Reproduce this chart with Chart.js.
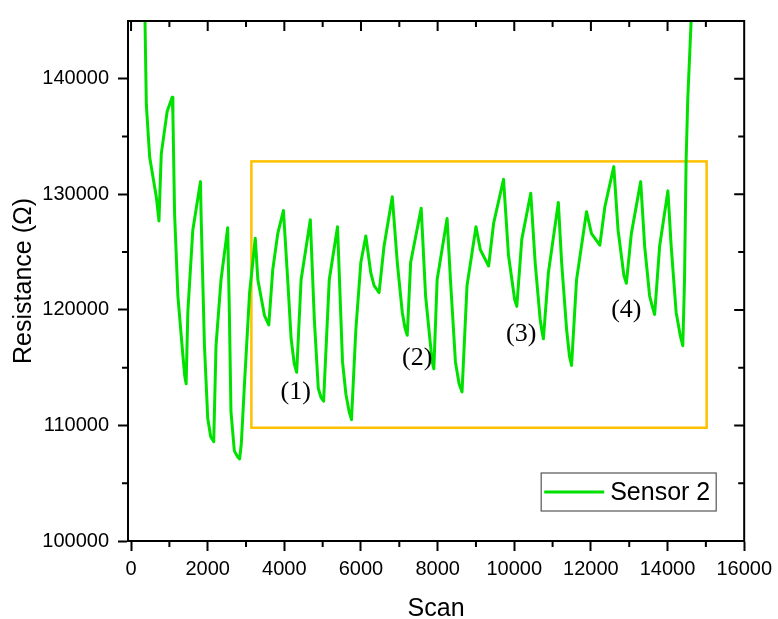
<!DOCTYPE html>
<html><head><meta charset="utf-8">
<script src="https://cdn.jsdelivr.net/npm/chart.js@4.4.1/dist/chart.umd.min.js"></script>
<style>html,body{margin:0;padding:0;background:#fff;}#wrap{width:778px;height:619px;}</style>
</head><body><div id="wrap"><canvas id="c" width="778" height="619"></canvas></div>
<script>
const scan = [340,398,486,658,728,746,788,876,943,1073,1092,1136,1222,1351,1400,1437,1481,1611,1811,1827,1915,2001,2080,2157,2217,2347,2521,2565,2607,2695,2780,2833,2877,2963,3093,3241,3309,3483,3594,3698,3828,3976,4088,4177,4260,4322,4437,4678,4782,4886,4960,5024,5172,5388,5518,5607,5690,5752,5866,5996,6126,6256,6342,6472,6601,6817,6947,7077,7150,7207,7296,7571,7686,7815,7860,7901,7987,8247,8335,8465,8560,8637,8767,9001,9115,9331,9461,9720,9850,10010,10066,10196,10430,10545,10675,10720,10760,10890,11150,11236,11366,11440,11495,11625,11885,12015,12233,12363,12597,12709,12860,12925,13055,13299,13403,13533,13610,13663,13793,14009,14095,14224,14330,14398,14443,14484,14528,14614,14660];
const resistance = [150000,137800,133200,129800,127700,129500,133500,135600,137200,138400,136900,128300,121200,116100,114300,113600,119800,126900,131100,128300,116900,110600,109000,108600,116900,122600,127100,119800,111200,107800,107300,107100,108400,113800,121500,126200,122600,119500,118700,123500,126600,128600,122600,117500,115300,114600,122600,127800,119200,113200,112400,112100,122600,127200,115500,112700,111200,110500,118300,124100,126400,123200,122100,121500,125500,129800,124100,119800,118400,117800,124100,128800,121200,116900,115500,114900,122600,127900,122600,115500,113600,112900,122100,127200,125200,123800,127500,131300,124700,120900,120300,126100,130100,124100,119200,118200,117500,123200,129300,124100,118300,116000,115200,122600,128500,126600,125600,128900,132400,126900,123000,122300,126600,131100,125500,121200,120200,119600,125500,130300,125500,119800,117800,116900,122600,132900,138300,144900,148000];
const seriesLabel = 'Sensor 2';
const xMajorTicks = [0,2000,4000,6000,8000,10000,12000,14000,16000];
const xMinorTicks = [1000,3000,5000,7000,9000,11000,13000,15000];
const yMajorTicks = [100000,110000,120000,130000,140000];
const yMinorTicks = [105000,115000,125000,135000];
const boxScan = [3140, 15020];
const boxResistance = [109800, 132850];
const noteLabels = ['(1)','(2)','(3)','(4)'];
const noteScan = [4296, 7467, 10180, 12925];
const noteResistance = [112900, 115800, 117900, 120000];

const SANS = '"Liberation Sans", Arial, sans-serif';
const SERIF = '"Liberation Serif", "Times New Roman", serif';

const points = scan.map((s, i) => ({x: s, y: resistance[i]}));

const decor = {
  id: 'decor',
  beforeDatasetsDraw(chart) {
    const {ctx, scales: {x, y}} = chart;
    ctx.save();
    ctx.strokeStyle = '#FFC000';
    ctx.lineWidth = 2.5;
    const x0 = x.getPixelForValue(boxScan[0]), x1 = x.getPixelForValue(boxScan[1]);
    const y0 = y.getPixelForValue(boxResistance[1]), y1 = y.getPixelForValue(boxResistance[0]);
    ctx.strokeRect(x0, y0, x1 - x0, y1 - y0);
    ctx.restore();
  },
  afterDatasetsDraw(chart) {
    const {ctx, chartArea: a, scales: {x, y}} = chart;
    ctx.save();
    ctx.strokeStyle = '#000';
    ctx.lineWidth = 2;
    ctx.beginPath();
    ctx.moveTo(a.left - 1, a.top); ctx.lineTo(a.right, a.top); ctx.lineTo(a.right, a.bottom + 1);
    xMajorTicks.forEach(v => { const p = x.getPixelForValue(v); ctx.moveTo(p, a.top); ctx.lineTo(p, a.top + 10); });
    xMinorTicks.forEach(v => { const p = x.getPixelForValue(v); ctx.moveTo(p, a.top); ctx.lineTo(p, a.top + 6);
      ctx.moveTo(p, a.bottom); ctx.lineTo(p, a.bottom + 6); });
    yMajorTicks.forEach(v => { const p = y.getPixelForValue(v); ctx.moveTo(a.right, p); ctx.lineTo(a.right - 10, p); });
    yMinorTicks.forEach(v => { const p = y.getPixelForValue(v); ctx.moveTo(a.right, p); ctx.lineTo(a.right - 6, p);
      ctx.moveTo(a.left, p); ctx.lineTo(a.left - 6, p); });
    ctx.stroke();
    ctx.fillStyle = '#000';
    ctx.font = '26px ' + SERIF;
    ctx.textAlign = 'center';
    ctx.textBaseline = 'middle';
    noteLabels.forEach((t, i) => ctx.fillText(t, x.getPixelForValue(noteScan[i]), y.getPixelForValue(noteResistance[i])));
    const ds = chart.data.datasets[0];
    const bx = a.right - 203, by = a.bottom - 68, bw = 175, bh = 38;
    ctx.fillStyle = '#fff';
    ctx.fillRect(bx, by, bw, bh);
    ctx.strokeStyle = '#555';
    ctx.lineWidth = 1.2;
    ctx.strokeRect(bx, by, bw, bh);
    ctx.strokeStyle = ds.borderColor;
    ctx.lineWidth = ds.borderWidth;
    ctx.beginPath(); ctx.moveTo(bx + 3, by + 19); ctx.lineTo(bx + 63, by + 19); ctx.stroke();
    ctx.fillStyle = '#000';
    ctx.font = '25px ' + SANS;
    ctx.textAlign = 'left';
    ctx.fillText(ds.label, bx + 69, by + 20);
    ctx.restore();
  }
};

new Chart(document.getElementById('c'), {
  type: 'line',
  data: { datasets: [{ label: seriesLabel, data: points, borderColor: 'rgb(0,225,0)', borderWidth: 3,
    pointRadius: 0, tension: 0, fill: false, borderJoinStyle: 'round' }] },
  options: {
    responsive: false, animation: false, devicePixelRatio: 1,
    layout: { padding: { left: 0, top: 15, right: 31, bottom: 0 } },
    plugins: { legend: { display: false }, tooltip: { enabled: false } },
    scales: {
      x: {
        type: 'linear', min: -80, max: 16000,
        afterFit: s => { s.height = 78; },
        afterBuildTicks: s => { s.ticks = xMajorTicks.map(v => ({value: v})); },
        ticks: { maxRotation: 0, autoSkip: false, color: '#000', padding: 6,
          font: { family: SANS, size: 20 }, callback: v => String(v) },
        grid: { drawOnChartArea: false, drawTicks: true, tickLength: 10, tickColor: '#000', tickWidth: 2 },
        border: { display: true, color: '#000', width: 2 },
        title: { display: true, text: 'Scan', color: '#000', font: { family: SANS, size: 25, lineHeight: 0.8 }, padding: { top: 0, bottom: 0 } }
      },
      y: {
        type: 'linear', min: 100000, max: 145000,
        afterFit: s => { s.width = 128; },
        afterBuildTicks: s => { s.ticks = yMajorTicks.map(v => ({value: v})); },
        ticks: { autoSkip: false, color: '#000', padding: 9,
          font: { family: SANS, size: 20 }, callback: v => String(v) },
        grid: { drawOnChartArea: false, drawTicks: true, tickLength: 10, tickColor: '#000', tickWidth: 2 },
        border: { display: true, color: '#000', width: 2 },
        title: { display: true, text: 'Resistance (Ω)', color: '#000', font: { family: SANS, size: 25 }, padding: { top: 9, bottom: 0 } }
      }
    }
  },
  plugins: [decor]
});
</script></body></html>
